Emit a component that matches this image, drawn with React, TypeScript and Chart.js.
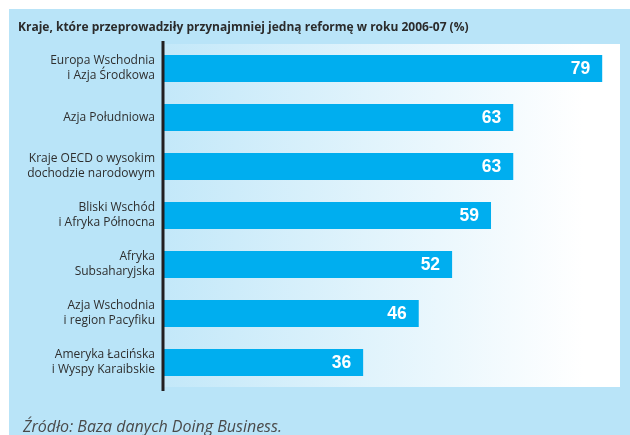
import React, { useEffect, useRef } from "react";
import { Chart, registerables } from "chart.js";

Chart.register(...registerables);

const subtitle = "Kraje, które przeprowadziły przynajmniej jedną reformę w roku 2006-07 (%)";
const footer = "Źródło: Baza danych Doing Business.";
const categories: string[][] = [
  ["Europa Wschodnia", "i Azja Środkowa"],
  ["Azja Południowa"],
  ["Kraje OECD o wysokim", "dochodzie narodowym"],
  ["Bliski Wschód", "i Afryka Północna"],
  ["Afryka", "Subsaharyjska"],
  ["Azja Wschodnia", "i region Pacyfiku"],
  ["Ameryka Łacińska", "i Wyspy Karaibskie"],
];
const values = [79, 63, 63, 59, 52, 46, 36];
const xMin = 0;
const xMax = 82.2;

const PANEL = "#B9E4F8";
const BAR = "#00AEEF";

const decorPlugin = {
  id: "decor",
  beforeDraw(chart: any) {
    const { ctx, chartArea, width, height } = chart;
    ctx.save();
    ctx.fillStyle = "#FFFFFF";
    ctx.fillRect(0, 0, width, height);
    ctx.fillStyle = PANEL;
    ctx.fillRect(9, 9, width - 9, height - 9);
    const g = ctx.createLinearGradient(chartArea.left, 0, chartArea.right, 0);
    g.addColorStop(0, "#C3E8F9");
    g.addColorStop(0.92, "#FFFFFF");
    g.addColorStop(1, "#FFFFFF");
    ctx.fillStyle = g;
    ctx.fillRect(chartArea.left, chartArea.top, chartArea.right - chartArea.left, chartArea.bottom - chartArea.top);
    ctx.fillStyle = "#2B2B2B";
    ctx.font = "bold 12px 'Open Sans'";
    ctx.textAlign = "left";
    ctx.textBaseline = "alphabetic";
    ctx.fillText(subtitle, 18, 31);
    ctx.restore();
  },
  afterDatasetsDraw(chart: any) {
    const { ctx, chartArea } = chart;
    const meta = chart.getDatasetMeta(0);
    ctx.save();
    ctx.fillStyle = "#FFFFFF";
    ctx.font = "bold 17.5px 'Liberation Sans'";
    ctx.textAlign = "right";
    ctx.textBaseline = "middle";
    meta.data.forEach((bar: any, i: number) => {
      ctx.fillText(String(values[i]), bar.x - 12, bar.y + 1);
    });
    ctx.strokeStyle = "#231F20";
    ctx.lineWidth = 3;
    ctx.beginPath();
    ctx.moveTo(chartArea.left, chartArea.top - 3);
    ctx.lineTo(chartArea.left, chartArea.bottom + 4);
    ctx.stroke();
    ctx.fillStyle = "#4A4A4A";
    ctx.font = "italic 16px 'Open Sans'";
    ctx.textAlign = "left";
    ctx.textBaseline = "alphabetic";
    ctx.fillText(footer, 23, 432);
    ctx.restore();
  },
};

export default function App() {
  const ref = useRef<HTMLCanvasElement | null>(null);
  useEffect(() => {
    if (!ref.current) return;
    const chart = new Chart(ref.current, {
      type: "bar",
      data: {
        labels: categories,
        datasets: [
          {
            data: values,
            backgroundColor: BAR,
            borderWidth: 0,
            categoryPercentage: 1,
            barPercentage: 0.55,
          },
        ],
      },
      options: {
        indexAxis: "y",
        animation: false,
        responsive: false,
        maintainAspectRatio: false,
        layout: { padding: { left: 0, top: 44, right: 10, bottom: 48 } },
        plugins: {
          legend: { display: false },
          tooltip: { enabled: false },
          title: { display: false },
        },
        scales: {
          x: { display: false, min: xMin, max: xMax },
          y: {
            afterFit(scale: any) {
              scale.width = 163;
            },
            grid: { display: false, drawTicks: false },
            border: { display: false },
            ticks: {
              color: "#2E2E2E",
              font: { family: "'Open Sans'", size: 12, lineHeight: 1.25 },
              padding: 8,
            },
          },
        },
      },
      plugins: [decorPlugin],
    });
    return () => chart.destroy();
  }, []);
  return (
    <div style={{ position: "fixed", left: 0, top: 0, width: 630, height: 435 }}>
      <canvas ref={ref} width={630} height={435} style={{ width: 630, height: 435 }} />
    </div>
  );
}
